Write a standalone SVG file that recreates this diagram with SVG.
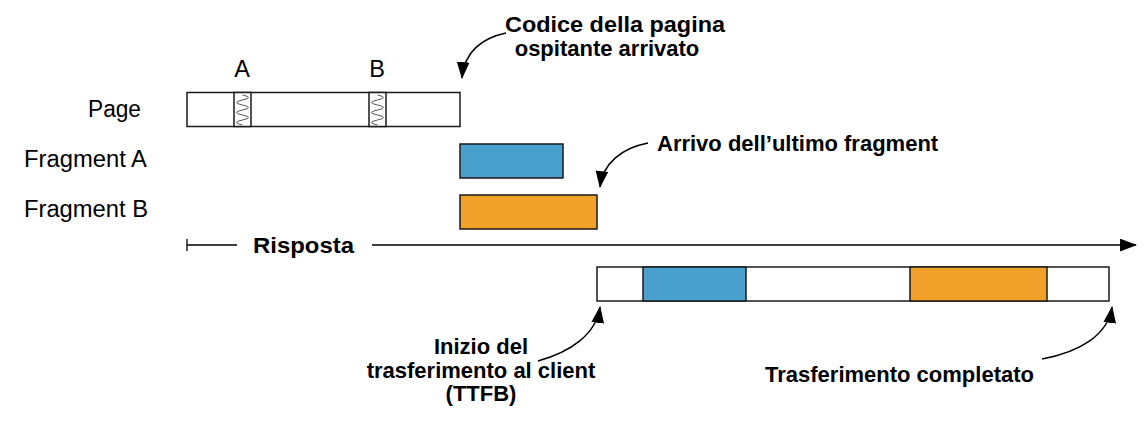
<svg xmlns="http://www.w3.org/2000/svg" width="1144" height="424" viewBox="0 0 1144 424">
  <defs>
    <style>
      .lbl { font-family: "Liberation Sans", Arial, sans-serif; font-size: 23.5px; fill: #000; }
      .note { font-family: "Liberation Sans", Arial, sans-serif; font-size: 22px; font-weight: bold; fill: #000; }
      .box { stroke: #1a1a1a; stroke-width: 1.5; }
      .white { fill: #fff; }
      .blue { fill: #4AA0CD; }
      .orange { fill: #F1A02A; }
      .wave { fill: none; stroke: #555; stroke-width: 1; }
      .conn { fill: none; stroke: #000; stroke-width: 1.5; }
    </style>
    <marker id="head" viewBox="0 0 16 12" refX="15" refY="6" markerWidth="17" markerHeight="13" markerUnits="userSpaceOnUse" orient="auto">
      <path d="M0 0 L16 6 L0 12 Z" fill="#000"/>
    </marker>
  </defs>
  <rect width="1144" height="424" fill="#fff"/>

  <g id="row-labels">
    <text class="lbl" x="88" y="117" textLength="53" lengthAdjust="spacingAndGlyphs">Page</text>
    <text class="lbl" x="24" y="167" textLength="123" lengthAdjust="spacingAndGlyphs">Fragment A</text>
    <text class="lbl" x="24" y="217" textLength="124" lengthAdjust="spacingAndGlyphs">Fragment B</text>
    <text class="lbl" x="242" y="77" text-anchor="middle">A</text>
    <text class="lbl" x="377" y="77" text-anchor="middle">B</text>
  </g>

  <g id="page">
    <rect class="box white" x="187" y="92.5" width="273" height="34"/>
    <rect class="box white" x="234" y="92.5" width="17" height="34"/>
    <rect class="box white" x="369" y="92.5" width="17" height="34"/>
    <path class="wave" d="M242.5 95 q12 2.5 0 5 t0 5 t0 5 t0 5 t0 5 t0 5"/>
    <path class="wave" d="M377.5 95 q12 2.5 0 5 t0 5 t0 5 t0 5 t0 5 t0 5"/>
  </g>

  <g id="fragment-a">
    <rect class="box blue" x="460" y="144" width="103" height="34"/>
  </g>

  <g id="fragment-b">
    <rect class="box orange" x="460" y="195" width="137" height="34"/>
  </g>

  <g id="response">
    <line x1="187" y1="239" x2="187" y2="251" stroke="#000" stroke-width="1.3"/>
    <line x1="187" y1="245" x2="237" y2="245" stroke="#000" stroke-width="1.3"/>
    <text class="note" x="253" y="253" textLength="101" lengthAdjust="spacingAndGlyphs">Risposta</text>
  </g>

  <g id="transfer">
    <rect class="box white" x="597" y="267" width="512" height="34"/>
    <rect class="box blue" x="643" y="267" width="103" height="34"/>
    <rect class="box orange" x="910" y="267" width="137" height="34"/>
  </g>

  <g id="notes">
    <text class="note" x="505" y="32" textLength="220" lengthAdjust="spacingAndGlyphs">Codice della pagina</text>
    <text class="note" x="607" y="56" text-anchor="middle">ospitante arrivato</text>
    <text class="note" x="657" y="151">Arrivo dell’ultimo fragment</text>
    <text class="note" x="481" y="354" text-anchor="middle">Inizio del</text>
    <text class="note" x="481" y="378" text-anchor="middle">trasferimento al client</text>
    <text class="note" x="481" y="401" text-anchor="middle">(TTFB)</text>
    <text class="note" x="765" y="382">Trasferimento completato</text>
  </g>

  <g id="connectors">
    <line class="conn" x1="372" y1="245" x2="1136" y2="245" marker-end="url(#head)"/>
    <path class="conn" d="M506 33 C482 38 464 52 462 78" marker-end="url(#head)"/>
    <path class="conn" d="M648 143 C622 148 603 163 600 187" marker-end="url(#head)"/>
    <path class="conn" d="M538 361 C570 352 596 335 600 307" marker-end="url(#head)"/>
    <path class="conn" d="M1042 359 C1080 352 1108 335 1112 307" marker-end="url(#head)"/>
  </g>
</svg>
